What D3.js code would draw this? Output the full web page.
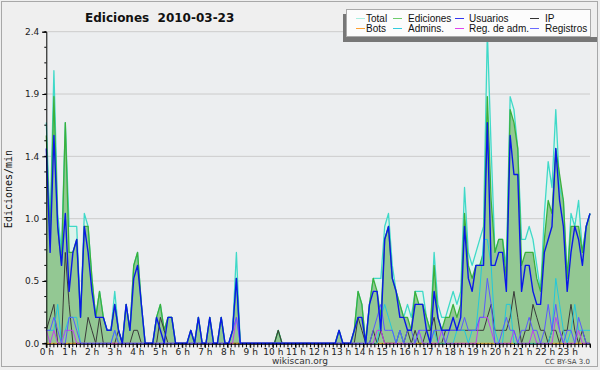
<!DOCTYPE html>
<html><head><meta charset="utf-8">
<script src="https://cdn.jsdelivr.net/npm/d3@7"></script>
<style>body{margin:0;background:#fff}svg{display:block}</style>
</head><body><svg id="c" width="600" height="370"></svg>
<script>
const title = "Ediciones  2010-03-23";
const yLabel = "Ediciones/min";
const hourLabels = d3.range(24).map(h => h + " h");
const yTicks = [0, 0.48, 0.96, 1.44, 1.92, 2.4];
const seriesNames = ["Total","Ediciones","Usuarios","IP","Bots","Admins.","Reg. de adm.","Registros"];

const total = [1.7,0.9,2.1,1.0,0.7,1.7,0.9,0.9,0.9,0.2,1.0,0.9,0.5,0.2,0.4,0.2,0.1,0.1,0.4,0.1,0,0.3,0.1,0.6,
0.7,0.3,0,0,0,0.2,0.3,0.1,0.2,0.2,0,0,0,0,0.1,0,0.2,0,0,0.2,0,0,0.2,0,
0,0.1,0.7,0,0,0,0,0,0,0,0,0,0,0.1,0,0,0,0,0,0,0,0,0,0,
0,0,0,0,0,0.1,0,0,0,0.1,0.4,0.3,0,0.3,0.5,0.5,0.5,0.9,1.0,0.6,0.4,0.3,0.2,0.3,
0.2,0.4,0.4,0.4,0.2,0.1,0.7,0.3,0.2,0.2,0.3,0.4,0.3,0.4,1.2,0.7,0.6,0.7,0.8,0.9,2.4,1.5,0.7,0.8,
0.8,0.6,1.9,1.8,1.5,0.8,0.8,0.9,0.8,0.6,0.4,1.0,1.4,1.2,1.8,1.2,1.1,0.5,1.0,0.9,1.1,0.7,0.9,1.0];
const ediciones = [1.6,0.8,1.9,0.9,0.6,1.7,0.7,0.7,0.8,0.2,0.9,0.9,0.5,0.2,0.4,0.2,0.1,0.1,0.3,0.1,0,0.3,0.1,0.6,
0.7,0.3,0,0,0,0.2,0.3,0.1,0.2,0.2,0,0,0,0,0.1,0,0.2,0,0,0.2,0,0,0.2,0,
0,0.1,0.5,0,0,0,0,0,0,0,0,0,0,0.1,0,0,0,0,0,0,0,0,0,0,
0,0,0,0,0,0.1,0,0,0,0.1,0.4,0.3,0,0.3,0.5,0.4,0.2,0.8,0.9,0.5,0.4,0.3,0.2,0.2,
0.1,0.4,0.3,0.3,0.2,0.1,0.6,0.2,0.1,0.2,0.2,0.3,0.2,0.3,1.0,0.6,0.5,0.6,0.6,0.7,1.9,1.1,0.7,0.8,
0.8,0.5,1.8,1.7,1.5,0.6,0.7,0.7,0.7,0.5,0.4,0.8,1.1,1.0,1.5,1.3,1.1,0.5,0.9,0.9,0.9,0.7,0.9,1.0];
const usuarios = [1.5,0.7,1.6,0.9,0.6,1.0,0.4,0.7,0.8,0.2,0.9,0.7,0.4,0.2,0.2,0.2,0.1,0.1,0.3,0.1,0,0.3,0.1,0.5,
0.6,0.3,0,0,0,0.2,0.1,0,0.2,0.2,0,0,0,0,0.1,0,0.2,0,0,0.2,0,0,0.2,0,
0,0.1,0.5,0,0,0,0,0,0,0,0,0,0,0,0,0,0,0,0,0,0,0,0,0,
0,0,0,0,0,0.1,0,0,0,0.1,0.2,0.2,0,0.3,0.4,0.4,0.1,0.8,0.9,0.5,0.4,0.2,0.2,0.1,
0.1,0.3,0.3,0.3,0.1,0,0.4,0.2,0.1,0.1,0.1,0.2,0.1,0.2,0.9,0.5,0.4,0.6,0.6,0.6,1.7,0.6,0.6,0.7,
0.7,0.4,1.6,1.3,1.3,0.4,0.6,0.6,0.4,0.3,0.3,0.7,0.8,0.9,1.5,1.1,0.9,0.4,0.7,0.9,0.8,0.6,0.9,1.0];
const ip = [0.1,0.2,0.3,0,0,0.7,0.3,0,0,0,0,0.2,0.1,0,0.2,0,0,0,0,0.1,0,0,0,0.1,
0.1,0,0,0,0,0,0.2,0.1,0,0,0,0,0,0,0,0,0,0,0,0,0,0,0,0,
0,0,0,0,0,0,0,0,0,0,0,0,0,0.1,0,0,0,0,0,0,0,0,0,0,
0,0,0,0,0,0,0,0,0,0,0.2,0.1,0,0,0.1,0,0.1,0,0,0,0,0.1,0,0.1,
0,0.1,0,0,0.1,0.1,0.2,0,0,0.1,0.1,0.1,0.1,0.1,0.1,0.1,0.1,0.1,0.1,0.1,0.2,0.3,0.1,0.1,
0.1,0.1,0.2,0.4,0.2,0,0.1,0.1,0.3,0.2,0.1,0.1,0,0.1,0.1,0,0.1,0.1,0.3,0.1,0,0.1,0,0];
const bots = [0,0,0,0,0,0,0,0,0,0,0,0,0,0,0,0,0,0,0,0,0,0,0,0,
0,0,0,0,0,0,0,0,0,0,0,0,0,0,0,0,0,0,0,0,0,0,0,0,
0,0,0,0,0,0,0,0,0,0,0,0,0,0,0,0,0,0,0,0,0,0,0,0,
0,0,0,0,0,0,0,0,0,0,0,0,0,0,0,0,0,0,0,0,0,0,0,0,
0,0,0,0,0,0,0,0,0,0,0,0,0,0,0,0,0,0,0,0,0,0,0,0,
0,0,0,0,0,0,0,0,0,0,0,0,0,0,0,0,0,0,0,0,0,0,0,0];
const admins = [0.1,0.1,0.1,0.3,0,0.1,0.2,0.2,0.2,0,0,0,0,0,0,0,0,0,0.1,0,0,0,0,0,
0,0,0,0,0,0,0,0,0,0,0,0,0,0,0,0,0,0,0,0,0,0,0,0,
0,0.1,0.5,0,0,0,0,0,0,0,0,0,0,0,0,0,0,0,0,0,0,0,0,0,
0,0,0,0,0,0,0,0,0,0,0,0,0,0,0,0,0.2,0.3,0.2,0.1,0,0.1,0,0,
0,0,0.1,0,0,0,0.1,0,0,0,0,0,0.1,0.1,0.1,0,0.1,0.1,0.4,0.8,0.8,0.6,0.1,0,
0,0.3,0.3,0,0,0,0,0,0,0,0,0,0,0.1,0.5,0.3,0.1,0,0.1,0.3,0.1,0.1,0.1,0.1];
const regAdm = [0.1,0,0.1,0,0,0.1,0.1,0.1,0,0,0,0,0,0,0,0,0,0,0,0,0,0,0,0,
0,0,0,0,0,0,0,0,0,0,0,0,0,0,0,0,0,0,0,0,0,0,0,0,
0,0,0.2,0,0,0,0,0,0,0,0,0,0,0,0,0,0,0,0,0,0,0,0,0,
0,0,0,0,0,0,0,0,0,0,0,0,0,0,0,0.1,0.1,0,0,0,0,0,0,0,
0,0,0.1,0,0,0,0,0,0.1,0,0,0,0,0,0,0,0,0,0.2,0.2,0.2,0.1,0,0,
0,0,0,0.1,0,0,0,0,0.1,0,0,0,0,0,0.2,0.1,0,0,0,0,0.1,0,0,0];
const registros = [0.1,0.1,0.2,0.1,0,0,0.2,0.2,0.1,0,0,0,0,0,0,0,0,0,0.1,0,0,0,0,0,
0,0,0,0,0,0,0,0,0,0,0,0,0,0,0,0,0,0,0,0,0,0,0,0,
0,0.1,0.2,0,0,0,0,0,0,0,0,0,0,0,0,0,0,0,0,0,0,0,0,0,
0,0,0,0,0,0,0,0,0,0,0,0,0,0,0.1,0.2,0.3,0.1,0.1,0.1,0,0.1,0,0.1,
0.1,0,0.1,0.1,0.1,0,0.1,0.1,0.1,0,0.1,0.1,0.1,0.1,0.2,0.1,0.1,0.1,0.2,0.2,0.5,0.3,0,0,
0.1,0.2,0.1,0.1,0,0.1,0.1,0.2,0.1,0.1,0,0.1,0.3,0.1,0.3,0.1,0,0.1,0.1,0,0.2,0.1,0,0];

const svg = d3.select("#c");
const W = 600, H = 370;
const L = 46.3, R = 590, T = 31.7, B = 343.3;
const SANS = "'DejaVu Sans', sans-serif";
svg.append("rect").attr("width", W).attr("height", H).attr("fill", "#efefef");
svg.append("rect").attr("x", 1.5).attr("y", 1.5).attr("width", 596).attr("height", 365)
  .attr("fill", "none").attr("stroke", "#a8a8a8");
svg.append("rect").attr("x", L).attr("y", T).attr("width", R - L).attr("height", B - T).attr("fill", "#eceef0");

const x = d3.scaleLinear().domain([0, 143]).range([L, R]);
const xh = d3.scaleLinear().domain([0, 24]).range([L, R]);
const y = d3.scaleLinear().domain([0, 2.4]).range([B, T]);

svg.append("g").selectAll("line").data(yTicks.slice(1)).join("line")
  .attr("x1", L).attr("x2", R).attr("y1", d => y(d)).attr("y2", d => y(d))
  .attr("stroke", "#cccccc").attr("stroke-width", 1);

const area = d3.area().x((d, i) => x(i)).y0(y(0)).y1(d => y(d));
const line = d3.line().x((d, i) => x(i)).y(d => y(d));

svg.append("path").datum(total).attr("d", area).attr("fill", "#dcf3ec");
svg.append("path").datum(ediciones).attr("d", area).attr("fill", "#93c893");

const lines = [
  {data: total, color: "#3fd9c8", w: 1.3},
  {data: ediciones, color: "#3bb03b", w: 1.3},
  {data: ip, color: "#3a3a3a", w: 1},
  {data: bots, color: "#ffa020", w: 1},
  {data: admins, color: "#22c8dc", w: 1},
  {data: regAdm, color: "#c040f0", w: 1},
  {data: registros, color: "#5a5aff", w: 1},
  {data: usuarios, color: "#0a18e8", w: 1.4}
];
lines.forEach(s => {
  svg.append("path").datum(s.data).attr("d", line).attr("fill", "none")
    .attr("stroke", s.color).attr("stroke-width", s.w).attr("stroke-linejoin", "round");
});

const yAxis = d3.axisLeft(y).tickValues(yTicks).tickFormat(d3.format(".1f")).tickSize(4);
const gy = svg.append("g").attr("transform", `translate(${L},0)`).call(yAxis);
gy.select(".domain").attr("stroke", "#000");
gy.selectAll("text").attr("font-size", 9).attr("fill", "#222").style("font-family", SANS);
svg.append("g").selectAll("line").data(d3.range(0, 2.4001, 0.12)).join("line")
  .attr("x1", L - 2).attr("x2", L).attr("y1", d => y(d)).attr("y2", d => y(d)).attr("stroke", "#000");

const xAxis = d3.axisBottom(xh).tickValues(d3.range(24)).tickFormat(d => hourLabels[d]).tickSize(4);
const gx = svg.append("g").attr("transform", `translate(0,${B + 0.5})`).call(xAxis);
gx.select(".domain").attr("stroke", "#000");
gx.selectAll("text").attr("font-size", 9).attr("fill", "#222").attr("dy", "0.45em").style("font-family", SANS);
svg.append("g").selectAll("line").data(d3.range(0, 24.001, 1 / 6)).join("line")
  .attr("x1", d => xh(d)).attr("x2", d => xh(d)).attr("y1", B).attr("y2", B + 4).attr("stroke", "#000");

svg.append("text").attr("x", 85).attr("y", 22).attr("font-weight", "bold").attr("font-size", 12)
  .style("white-space", "pre").style("font-family", SANS).attr("fill", "#111").text(title);
svg.append("text").attr("transform", "translate(12,189) rotate(-90)").attr("text-anchor", "middle")
  .style("font-family", "'DejaVu Sans Mono', monospace").attr("font-size", 10).attr("fill", "#111").text(yLabel);
svg.append("text").attr("x", 300).attr("y", 364).attr("text-anchor", "middle").attr("font-size", 9)
  .style("font-family", SANS).attr("fill", "#333").text("wikiscan.org");
svg.append("text").attr("x", 590).attr("y", 364).attr("text-anchor", "end").attr("font-size", 7)
  .style("font-family", SANS).attr("fill", "#444").text("CC BY-SA 3.0");

// legend
const legendColors = ["#a8eedf","#6ccc6c","#3535f0","#333333","#ffa030","#33ccdd","#dd44ee","#6a6aff"];
svg.append("rect").attr("x", 343).attr("y", 14).attr("width", 4).attr("height", 28).attr("fill", "#777");
svg.append("rect").attr("x", 343).attr("y", 37).attr("width", 254).attr("height", 5).attr("fill", "#777");
svg.append("rect").attr("x", 346.5).attr("y", 9.5).attr("width", 244).attr("height", 27).attr("fill", "#fcfcfc").attr("stroke", "#aaa");
const colX = [356, 393, 455, 530];
const textX = [366, 408, 469, 545];
seriesNames.forEach((n, i) => {
  const c = i % 4, r = Math.floor(i / 4);
  const yy = 18.5 + r * 10;
  svg.append("line").attr("x1", colX[c]).attr("x2", colX[c] + 9).attr("y1", yy).attr("y2", yy)
    .attr("stroke", legendColors[i]).attr("stroke-width", 1);
  svg.append("text").attr("x", textX[c]).attr("y", yy + 3.5)
    .style("font-family", "'Liberation Sans', Arial, sans-serif")
    .attr("font-size", 10).attr("fill", "#111").text(n);
});
</script></body></html>
